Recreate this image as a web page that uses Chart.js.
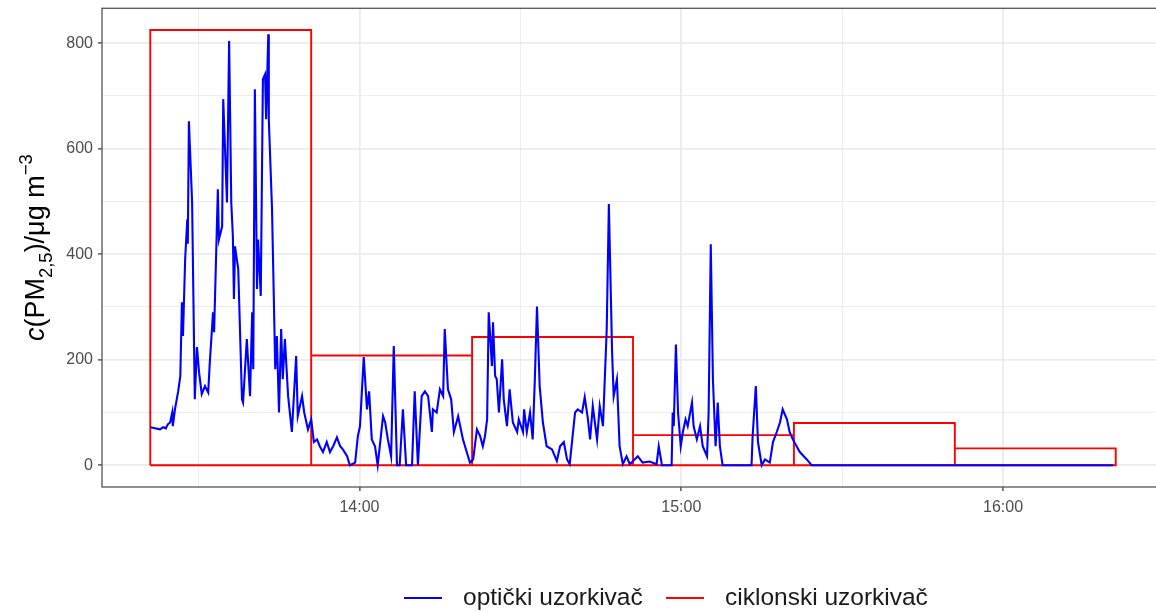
<!DOCTYPE html>
<html><head><meta charset="utf-8">
<script src="https://cdn.jsdelivr.net/npm/chart.js@4.4.1/dist/chart.umd.min.js"></script>
<style>html,body{margin:0;padding:0;overflow:hidden;background:#fff}</style>
</head><body>
<canvas id="c" width="1170" height="612" style="width:1170px;height:612px;display:block"></canvas>
<script>
// ---- data ----
const seriesNames = ['optički uzorkivač', 'ciklonski uzorkivač'];
const seriesColors = ['#0000ff', '#ff0000'];
// optical sampler: time in minutes after midnight, concentration in µg/m3
const opticTimes = [
  801.0, 801.9, 802.8, 803.4, 803.9, 804.3, 804.7, 805.1, 805.2, 805.6,
  806.2, 806.6, 806.9, 807.1, 807.5, 807.9, 808.0, 808.2, 808.8, 809.3,
  809.7, 810.1, 810.6, 811.2, 811.8, 812.1, 812.7, 812.9, 813.6, 813.8,
  814.4, 814.6, 815.3, 815.7, 816.1, 816.4, 816.6, 816.8, 817.4, 818.1,
  818.3, 819.0, 819.6, 820.0, 820.2, 820.5, 820.9, 821.1, 821.6, 822.0,
  822.4, 822.6, 823.0, 823.1, 823.7, 824.3, 824.6, 825.0, 825.4, 825.7,
  826.1, 826.7, 827.4, 828.2, 828.5, 829.3, 829.7, 830.4, 831.0, 831.5,
  832.1, 832.6, 833.2, 833.9, 834.5, 835.1, 835.8, 836.4, 836.9, 837.7,
  838.2, 839.2, 839.7, 840.1, 840.8, 841.4, 841.8, 842.3, 842.9, 843.4,
  844.4, 844.8, 845.3, 845.9, 846.4, 847.0, 847.5, 848.1, 848.7, 849.8,
  850.3, 850.9, 851.6, 852.2, 852.8, 853.5, 853.7, 854.4, 855.0, 855.6,
  855.9, 856.5, 857.1, 857.6, 858.4, 859.3, 860.0, 860.6, 861.2, 861.9,
  862.5, 863.0, 863.4, 863.8, 864.1, 864.7, 864.9, 865.3, 865.6, 866.0,
  866.6, 866.9, 867.5, 868.0, 868.6, 869.4, 869.7, 870.5, 870.7, 871.2,
  871.8, 872.3, 872.7, 873.1, 873.6, 874.2, 874.9, 875.9, 876.8, 877.4,
  878.1, 878.7, 879.2, 880.2, 880.7, 881.5, 882.0, 882.6, 883.0, 883.5,
  884.3, 884.8, 885.4, 886.1, 886.5, 887.1, 887.4, 888.0, 888.5, 889.1,
  889.8, 890.4, 891.3, 891.9, 892.8, 894.1, 895.4, 895.8, 896.4, 898.2,
  898.4, 898.6, 899.0, 899.4, 899.9, 900.3, 900.8, 901.2, 902.0, 902.3,
  902.9, 903.5, 904.0, 904.8, 905.1, 905.5, 905.9, 906.4, 906.8, 907.2,
  907.7, 913.1, 913.3, 913.9, 914.3, 915.0, 915.6, 916.5, 917.1, 917.8,
  918.4, 918.9, 919.7, 920.2, 920.8, 921.5, 922.1, 923.4, 924.3, 980.5
];
const opticValues = [
  72, 70, 68, 72, 70, 78, 81, 100, 74, 106,
  140, 169, 309, 245, 390, 466, 420, 652, 498, 125,
  224, 176, 135, 150, 138, 195, 290, 252, 523, 428,
  453, 694, 498, 804, 498, 434, 315, 415, 372, 125,
  119, 239, 131, 290, 182, 713, 334, 428, 321, 732,
  741, 656, 817, 656, 485, 182, 245, 100, 258, 163,
  239, 131, 63, 207, 93, 131, 100, 68, 87, 44,
  49, 36, 25, 44, 25, 36, 53, 36, 30, 17,
  0, 5, 55, 74, 205, 106, 140, 49, 36, 0,
  93, 81, 49, 17, 226, 0, 0, 106, 0, 0,
  140, 0, 131, 140, 131, 63, 106, 100, 144, 131,
  258, 144, 125, 63, 93, 49, 25, 5, 11, 68,
  55, 36, 55, 87, 290, 188, 271, 169, 163, 100,
  201, 125, 74, 144, 81, 63, 87, 63, 106, 63,
  100, 49, 163, 301, 150, 81, 36, 30, 8, 36,
  44, 11, 2, 100, 106, 100, 129, 87, 49, 112,
  49, 112, 74, 258, 495, 214, 131, 163, 36, 2,
  17, 2, 11, 17, 5, 7, 2, 36, 0, 0,
  100, 74, 229, 100, 36, 63, 87, 74, 119, 74,
  49, 74, 36, 17, 100, 419, 163, 36, 119, 36,
  0, 0, 55, 150, 44, 0, 11, 5, 44, 63,
  81, 106, 87, 63, 49, 36, 25, 11, 0, 0
];
// cyclone sampler: interval boundaries (minutes after midnight) and mean concentration per interval
const cycloneBounds = [801, 831, 861, 891, 921, 951, 981];
const cycloneValues = [825, 208, 243, 57, 80, 32];
// axes
const xTicks = [810, 840, 870, 900, 930, 960];
const xLabelledTicks = [840, 900, 960];
const yTicks = [0, 100, 200, 300, 400, 500, 600, 700, 800];
const yLabelledTicks = [0, 200, 400, 600, 800];
const xRange = [792, 990];
const yRange = [-41.25, 866.25];

// ---- build datasets ----
const opticData = opticTimes.map((t, i) => ({x: t, y: opticValues[i]}));
const cycloneData = [];
cycloneValues.forEach((v, i) => {
  cycloneData.push({x: cycloneBounds[i], y: 0}, {x: cycloneBounds[i], y: v},
                   {x: cycloneBounds[i + 1], y: v}, {x: cycloneBounds[i + 1], y: 0});
});
cycloneData.push({x: cycloneBounds[0], y: 0});

const fmtTime = m => String(Math.floor(m / 60)).padStart(2, '0') + ':' + String(Math.round(m % 60)).padStart(2, '0');
const FONT = '"Liberation Sans", Arial, Helvetica, sans-serif';

const panelPlugin = {
  id: 'panel',
  afterDraw(chart) {
    const ctx = chart.ctx, a = chart.chartArea;
    ctx.save();
    // panel border
    ctx.strokeStyle = '#555';
    ctx.lineWidth = 1.3;
    ctx.strokeRect(a.left, a.top, a.right - a.left, a.bottom - a.top);
    // y-axis title
    ctx.translate(44, (a.top + a.bottom) / 2);
    ctx.rotate(-Math.PI / 2);
    const F = 27, S = 18.5;
    const parts = [
      {t: 'c', f: `italic ${F}px ${FONT}`, dy: 0},
      {t: '(PM', f: `${F}px ${FONT}`, dy: 0},
      {t: '2,5', f: `${S}px ${FONT}`, dy: 0.3 * F},
      {t: ')/μg m', f: `${F}px ${FONT}`, dy: 0},
      {t: '−3', f: `${S}px ${FONT}`, dy: -0.45 * F}
    ];
    let total = 0;
    parts.forEach(p => { ctx.font = p.f; p.w = ctx.measureText(p.t).width; total += p.w; });
    let x = -total / 2;
    ctx.fillStyle = '#000';
    ctx.textBaseline = 'alphabetic';
    parts.forEach(p => { ctx.font = p.f; ctx.fillText(p.t, x, p.dy); x += p.w; });
    ctx.restore();
    // legend
    ctx.save();
    const ly = 598;
    ctx.font = `24.5px ${FONT}`;
    ctx.textBaseline = 'middle';
    ctx.fillStyle = '#1a1a1a';
    const starts = [404, 666];
    seriesNames.forEach((name, i) => {
      const x0 = starts[i];
      ctx.strokeStyle = seriesColors[i];
      ctx.lineWidth = 2;
      ctx.beginPath(); ctx.moveTo(x0, ly); ctx.lineTo(x0 + 38, ly); ctx.stroke();
      ctx.fillText(name, x0 + 59, ly);
    });
    ctx.restore();
  }
};

new Chart(document.getElementById('c'), {
  type: 'line',
  data: {
    datasets: [
      {label: seriesNames[0], data: opticData, borderColor: seriesColors[0], borderWidth: 2.1,
       pointRadius: 0, tension: 0, fill: false},
      {label: seriesNames[1], data: cycloneData, borderColor: seriesColors[1], borderWidth: 1.9,
       pointRadius: 0, tension: 0, fill: false}
    ]
  },
  options: {
    responsive: false,
    animation: false,
    devicePixelRatio: 1,
    layout: {padding: {top: 8.3, right: 6, left: 0, bottom: 0}},
    plugins: {legend: {display: false}, tooltip: {enabled: false}},
    scales: {
      x: {
        type: 'linear', min: xRange[0], max: xRange[1],
        afterFit: s => { s.height = 125; s.paddingLeft = 0; s.paddingRight = 0; },
        afterBuildTicks: s => { s.ticks = xTicks.map(v => ({value: v})); },
        border: {display: false},
        grid: {
          color: '#ebebeb',
          lineWidth: c => xLabelledTicks.includes(c.tick.value) ? 1.8 : 0.9,
          tickColor: c => xLabelledTicks.includes(c.tick.value) ? '#333' : 'rgba(0,0,0,0)',
          tickLength: 4, tickWidth: 1.2
        },
        ticks: {
          autoSkip: false, maxRotation: 0, padding: 7,
          color: '#4d4d4d', font: {family: FONT, size: 16},
          callback: v => xLabelledTicks.includes(v) ? fmtTime(v) : ''
        }
      },
      y: {
        type: 'linear', min: yRange[0], max: yRange[1],
        afterFit: s => { s.width = 102; s.paddingTop = 0; s.paddingBottom = 0; },
        afterBuildTicks: s => { s.ticks = yTicks.map(v => ({value: v})); },
        border: {display: false},
        grid: {
          color: '#ebebeb',
          lineWidth: c => yLabelledTicks.includes(c.tick.value) ? 1.8 : 0.9,
          tickColor: c => yLabelledTicks.includes(c.tick.value) ? '#333' : 'rgba(0,0,0,0)',
          tickLength: 4, tickWidth: 1.2
        },
        ticks: {
          autoSkip: false, padding: 5,
          color: '#4d4d4d', font: {family: FONT, size: 16},
          callback: v => yLabelledTicks.includes(v) ? String(v) : ''
        }
      }
    }
  },
  plugins: [panelPlugin]
});
</script>
</body></html>
